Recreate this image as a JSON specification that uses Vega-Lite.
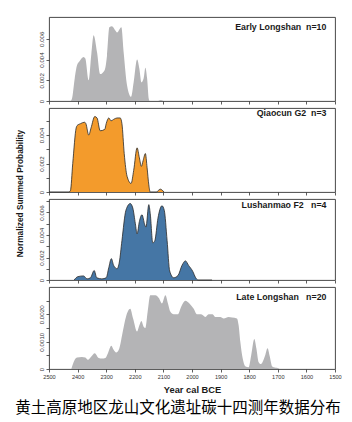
{
  "$schema": "https://vega.github.io/schema/vega-lite/v6.json",
  "autosize": {"type": "pad"},
  "padding": {"left": 14, "top": 16, "right": 0, "bottom": 0},
  "background": "white",
  "title": {"text": "黄土高原地区龙山文化遗址碳十四测年数据分布", "orient": "bottom", "anchor": "middle", "font": "Noto Sans CJK SC", "fontSize": 15.5, "fontWeight": "normal", "color": "#000000", "offset": 6},
  "spacing": 7,
  "bounds": "flush",
  "datasets": {
    "early": [
      {"year": 2425, "p": 0}, {"year": 2420, "p": 0.0002}, {"year": 2410, "p": 0.0022}, {"year": 2402, "p": 0.00345}, {"year": 2394, "p": 0.0038}, {"year": 2379, "p": 0.00425}, {"year": 2373, "p": 0.0041}, {"year": 2361, "p": 0.002}, {"year": 2352, "p": 0.0045}, {"year": 2344, "p": 0.00635}, {"year": 2332, "p": 0.0047}, {"year": 2321, "p": 0.0026}, {"year": 2305, "p": 0.003}, {"year": 2297, "p": 0.0044}, {"year": 2289, "p": 0.0071}, {"year": 2280, "p": 0.0072}, {"year": 2268, "p": 0.0068}, {"year": 2262, "p": 0.0066}, {"year": 2247, "p": 0.0071}, {"year": 2239, "p": 0.0047}, {"year": 2227, "p": 0.0015}, {"year": 2213, "p": 0.0004}, {"year": 2204, "p": 0.0018}, {"year": 2192, "p": 0.004}, {"year": 2184, "p": 0.0031}, {"year": 2177, "p": 0.0018}, {"year": 2169, "p": 0.0022}, {"year": 2163, "p": 0.0032}, {"year": 2157, "p": 0.0022}, {"year": 2151, "p": 0.0002}, {"year": 2148, "p": 0}, {"year": 2120, "p": 0}, {"year": 2110, "p": 0.0001}, {"year": 2100, "p": 0}
    ],
    "qiaocun": [
      {"year": 2500, "p": 0}, {"year": 2430, "p": 0}, {"year": 2425, "p": 0.0001}, {"year": 2417, "p": 0.002}, {"year": 2405, "p": 0.0045}, {"year": 2402, "p": 0.00466}, {"year": 2390, "p": 0.0048}, {"year": 2376, "p": 0.0049}, {"year": 2371, "p": 0.0048}, {"year": 2361, "p": 0.004}, {"year": 2353, "p": 0.0045}, {"year": 2340, "p": 0.0053}, {"year": 2332, "p": 0.0052}, {"year": 2321, "p": 0.0043}, {"year": 2305, "p": 0.0044}, {"year": 2300, "p": 0.0048}, {"year": 2291, "p": 0.0052}, {"year": 2283, "p": 0.005}, {"year": 2274, "p": 0.0051}, {"year": 2262, "p": 0.0052}, {"year": 2251, "p": 0.0052}, {"year": 2245, "p": 0.0048}, {"year": 2237, "p": 0.0027}, {"year": 2227, "p": 0.0011}, {"year": 2213, "p": 0.0006}, {"year": 2204, "p": 0.0015}, {"year": 2192, "p": 0.0031}, {"year": 2184, "p": 0.0024}, {"year": 2177, "p": 0.0018}, {"year": 2171, "p": 0.0022}, {"year": 2163, "p": 0.0027}, {"year": 2157, "p": 0.0017}, {"year": 2151, "p": 0.0005}, {"year": 2146, "p": 0}, {"year": 2125, "p": 0}, {"year": 2111, "p": 0.0002}, {"year": 2098, "p": 0}
    ],
    "lushanmao": [
      {"year": 2412, "p": 0}, {"year": 2399, "p": 0.0003}, {"year": 2379, "p": 0.00036}, {"year": 2367, "p": 0.0001}, {"year": 2355, "p": 0.0002}, {"year": 2342, "p": 0.00084}, {"year": 2333, "p": 0.0002}, {"year": 2315, "p": 0.0001}, {"year": 2300, "p": 0.0002}, {"year": 2291, "p": 0.0011}, {"year": 2282, "p": 0.0019}, {"year": 2274, "p": 0.0013}, {"year": 2262, "p": 0.001}, {"year": 2254, "p": 0.0016}, {"year": 2245, "p": 0.0035}, {"year": 2231, "p": 0.0062}, {"year": 2216, "p": 0.0068}, {"year": 2207, "p": 0.0064}, {"year": 2198, "p": 0.005}, {"year": 2192, "p": 0.0041}, {"year": 2184, "p": 0.0052}, {"year": 2175, "p": 0.0058}, {"year": 2165, "p": 0.0049}, {"year": 2161, "p": 0.0047}, {"year": 2151, "p": 0.0067}, {"year": 2146, "p": 0.0059}, {"year": 2137, "p": 0.0033}, {"year": 2130, "p": 0.0035}, {"year": 2119, "p": 0.0055}, {"year": 2105, "p": 0.0066}, {"year": 2097, "p": 0.0062}, {"year": 2087, "p": 0.0035}, {"year": 2078, "p": 0.0008}, {"year": 2064, "p": 0.0002}, {"year": 2049, "p": 0.0004}, {"year": 2035, "p": 0.0013}, {"year": 2023, "p": 0.0017}, {"year": 2012, "p": 0.0013}, {"year": 1997, "p": 0.00075}, {"year": 1988, "p": 0.00024}, {"year": 1979, "p": 0}, {"year": 1930, "p": 0}
    ],
    "late": [
      {"year": 2422, "p": 0}, {"year": 2410, "p": 0.00034}, {"year": 2402, "p": 0.00042}, {"year": 2385, "p": 0.00044}, {"year": 2373, "p": 0.00042}, {"year": 2364, "p": 0.00034}, {"year": 2352, "p": 0.00046}, {"year": 2340, "p": 0.00058}, {"year": 2326, "p": 0.0004}, {"year": 2315, "p": 0.00038}, {"year": 2303, "p": 0.0004}, {"year": 2294, "p": 0.00058}, {"year": 2282, "p": 0.00085}, {"year": 2274, "p": 0.0007}, {"year": 2265, "p": 0.0006}, {"year": 2254, "p": 0.00076}, {"year": 2242, "p": 0.00137}, {"year": 2231, "p": 0.0019}, {"year": 2216, "p": 0.0022}, {"year": 2206, "p": 0.00185}, {"year": 2192, "p": 0.00137}, {"year": 2184, "p": 0.0016}, {"year": 2177, "p": 0.00176}, {"year": 2169, "p": 0.00155}, {"year": 2163, "p": 0.0015}, {"year": 2155, "p": 0.0021}, {"year": 2146, "p": 0.0027}, {"year": 2128, "p": 0.0027}, {"year": 2116, "p": 0.0026}, {"year": 2105, "p": 0.0024}, {"year": 2093, "p": 0.0027}, {"year": 2084, "p": 0.0024}, {"year": 2076, "p": 0.0021}, {"year": 2064, "p": 0.002}, {"year": 2050, "p": 0.002}, {"year": 2037, "p": 0.0023}, {"year": 2023, "p": 0.0025}, {"year": 2009, "p": 0.0024}, {"year": 1994, "p": 0.0022}, {"year": 1983, "p": 0.002}, {"year": 1968, "p": 0.002}, {"year": 1953, "p": 0.0019}, {"year": 1942, "p": 0.002}, {"year": 1928, "p": 0.002}, {"year": 1919, "p": 0.0019}, {"year": 1901, "p": 0.0019}, {"year": 1889, "p": 0.00185}, {"year": 1872, "p": 0.0019}, {"year": 1860, "p": 0.00188}, {"year": 1843, "p": 0.00185}, {"year": 1837, "p": 0.0016}, {"year": 1831, "p": 0.001}, {"year": 1823, "p": 0.0004}, {"year": 1814, "p": 0.0001}, {"year": 1802, "p": 0.00006}, {"year": 1793, "p": 0.0005}, {"year": 1782, "p": 0.0011}, {"year": 1775, "p": 0.00076}, {"year": 1767, "p": 0.00025}, {"year": 1759, "p": 0.00018}, {"year": 1744, "p": 0.0005}, {"year": 1736, "p": 0.00076}, {"year": 1728, "p": 0.00046}, {"year": 1720, "p": 0.0001}, {"year": 1714, "p": 0.00006}, {"year": 1699, "p": 0.00003}, {"year": 1694, "p": 0}
    ]
  },
  "vconcat": [
    {
      "width": 286, "height": 84,
      "layer": [
        {
          "data": {"name": "early"},
          "mark": {"type": "area", "interpolate": "monotone", "color": "#b4b4b6", "opacity": 1},
          "encoding": {
            "x": {"field": "year", "type": "quantitative", "scale": {"domain": [1500, 2500], "reverse": true, "nice": false, "zero": false}, "axis": {"values": [2500, 2400, 2300, 2200, 2100, 2000, 1900, 1800, 1700, 1600, 1500], "labels": false, "title": null}},
            "y": {"field": "p", "type": "quantitative", "scale": {"domain": [0, 0.0081], "nice": false}, "axis": {"values": [0, 0.002, 0.004, 0.006], "labelExpr": "datum.value == 0 ? '0' : format(datum.value, '.3f')", "title": null}}
          }
        },
        {
          "data": {"values": [{"label": "Early Longshan\u00a0\u00a0n=10"}]},
          "mark": {"type": "text", "align": "right", "baseline": "middle", "fontWeight": "bold", "fontSize": 8.8, "color": "#1a1a1a"},
          "encoding": {
            "text": {"field": "label"},
            "x": {"datum": 1530, "type": "quantitative", "axis": {"values": [2500, 2400, 2300, 2200, 2100, 2000, 1900, 1800, 1700, 1600, 1500], "labels": false, "title": null}},
            "y": {"datum": 0.00715, "type": "quantitative", "axis": {"values": [0, 0.002, 0.004, 0.006], "labelExpr": "datum.value == 0 ? '0' : format(datum.value, '.3f')", "title": null}}
          }
        }
      ]
    },
    {
      "width": 286, "height": 84,
      "layer": [
        {
          "data": {"name": "qiaocun"},
          "mark": {"type": "area", "interpolate": "monotone", "color": "#f39b2c", "opacity": 1, "line": {"color": "#2a2a2a", "strokeWidth": 0.8}},
          "encoding": {
            "x": {"field": "year", "type": "quantitative", "scale": {"domain": [1500, 2500], "reverse": true, "nice": false, "zero": false}, "axis": {"values": [2500, 2400, 2300, 2200, 2100, 2000, 1900, 1800, 1700, 1600, 1500], "labels": false, "title": null}},
            "y": {"field": "p", "type": "quantitative", "scale": {"domain": [0, 0.0059], "nice": false}, "axis": {"values": [0, 0.001, 0.002, 0.003, 0.004, 0.005], "labelExpr": "datum.value == 0 ? '0' : (round(datum.value * 1000) % 2 == 0 ? format(datum.value, '.3f') : '')", "title": "Normalized Summed Probability", "titleX": -29, "titleY": 85, "titleAngle": -90, "titleAlign": "center", "titleBaseline": "middle", "titleFontWeight": "bold", "titleFontSize": 8.3, "titleColor": "#1a1a1a"}}
          }
        },
        {
          "data": {"values": [{"label": "Qiaocun G2\u00a0\u00a0n=3"}]},
          "mark": {"type": "text", "align": "right", "baseline": "middle", "fontWeight": "bold", "fontSize": 8.8, "color": "#1a1a1a"},
          "encoding": {
            "text": {"field": "label"},
            "x": {"datum": 1530, "type": "quantitative", "axis": {"values": [2500, 2400, 2300, 2200, 2100, 2000, 1900, 1800, 1700, 1600, 1500], "labels": false, "title": null}},
            "y": {"datum": 0.00555, "type": "quantitative", "axis": {"values": [0, 0.001, 0.002, 0.003, 0.004, 0.005], "labelExpr": "datum.value == 0 ? '0' : (round(datum.value * 1000) % 2 == 0 ? format(datum.value, '.3f') : '')", "title": "Normalized Summed Probability", "titleX": -29, "titleY": 85, "titleAngle": -90, "titleAlign": "center", "titleBaseline": "middle", "titleFontWeight": "bold", "titleFontSize": 8.3, "titleColor": "#1a1a1a"}}
          }
        }
      ]
    },
    {
      "width": 286, "height": 81,
      "layer": [
        {
          "data": {"name": "lushanmao"},
          "mark": {"type": "area", "interpolate": "monotone", "color": "#4576a5", "opacity": 1, "line": {"color": "#2a2a2a", "strokeWidth": 0.8}},
          "encoding": {
            "x": {"field": "year", "type": "quantitative", "scale": {"domain": [1500, 2500], "reverse": true, "nice": false, "zero": false}, "axis": {"values": [2500, 2400, 2300, 2200, 2100, 2000, 1900, 1800, 1700, 1600, 1500], "labels": false, "title": null}},
            "y": {"field": "p", "type": "quantitative", "scale": {"domain": [0, 0.0072], "nice": false}, "axis": {"values": [0, 0.001, 0.002, 0.003, 0.004, 0.005, 0.006, 0.007], "labelExpr": "datum.value == 0 ? '0' : (round(datum.value * 1000) % 2 == 0 ? format(datum.value, '.3f') : '')", "title": null}}
          }
        },
        {
          "data": {"values": [{"label": "Lushanmao F2\u00a0\u00a0\u00a0n=4"}]},
          "mark": {"type": "text", "align": "right", "baseline": "middle", "fontWeight": "bold", "fontSize": 8.8, "color": "#1a1a1a"},
          "encoding": {
            "text": {"field": "label"},
            "x": {"datum": 1530, "type": "quantitative", "axis": {"values": [2500, 2400, 2300, 2200, 2100, 2000, 1900, 1800, 1700, 1600, 1500], "labels": false, "title": null}},
            "y": {"datum": 0.00668, "type": "quantitative", "axis": {"values": [0, 0.001, 0.002, 0.003, 0.004, 0.005, 0.006, 0.007], "labelExpr": "datum.value == 0 ? '0' : (round(datum.value * 1000) % 2 == 0 ? format(datum.value, '.3f') : '')", "title": null}}
          }
        }
      ]
    },
    {
      "width": 286, "height": 82,
      "layer": [
        {
          "data": {"name": "late"},
          "mark": {"type": "area", "interpolate": "monotone", "color": "#b4b4b6", "opacity": 1},
          "encoding": {
            "x": {"field": "year", "type": "quantitative", "scale": {"domain": [1500, 2500], "reverse": true, "nice": false, "zero": false}, "axis": {"values": [2500, 2400, 2300, 2200, 2100, 2000, 1900, 1800, 1700, 1600, 1500], "format": "d", "labelFontSize": 5.6, "labelPadding": 2, "title": "Year cal BCE", "titleFontWeight": "bold", "titleFontSize": 9.3, "titlePadding": 6, "titleColor": "#1a1a1a"}},
            "y": {"field": "p", "type": "quantitative", "scale": {"domain": [0, 0.003], "nice": false}, "axis": {"values": [0, 0.0005, 0.001, 0.0015, 0.002, 0.0025], "labelExpr": "datum.value == 0 ? '0' : (round(datum.value * 10000) % 10 == 0 ? format(datum.value, '.4f') : '')", "title": null}}
          }
        },
        {
          "data": {"values": [{"label": "Late Longshan\u00a0\u00a0\u00a0n=20"}]},
          "mark": {"type": "text", "align": "right", "baseline": "middle", "fontWeight": "bold", "fontSize": 8.8, "color": "#1a1a1a"},
          "encoding": {
            "text": {"field": "label"},
            "x": {"datum": 1530, "type": "quantitative", "axis": {"values": [2500, 2400, 2300, 2200, 2100, 2000, 1900, 1800, 1700, 1600, 1500], "format": "d", "labelFontSize": 5.6, "labelPadding": 2, "title": "Year cal BCE", "titleFontWeight": "bold", "titleFontSize": 9.3, "titlePadding": 6, "titleColor": "#1a1a1a"}},
            "y": {"datum": 0.00264, "type": "quantitative", "axis": {"values": [0, 0.0005, 0.001, 0.0015, 0.002, 0.0025], "labelExpr": "datum.value == 0 ? '0' : (round(datum.value * 10000) % 10 == 0 ? format(datum.value, '.4f') : '')", "title": null}}
          }
        }
      ]
    }
  ],
  "config": {
    "font": "Liberation Sans",
    "view": {"stroke": "#333333", "strokeWidth": 0.9},
    "axis": {"domain": false, "grid": false, "tickColor": "#333333", "tickSize": 3, "tickWidth": 0.8, "labelFont": "Liberation Sans", "labelColor": "#333333", "labelFontSize": 6.2, "labelPadding": 2, "labelOverlap": false, "labelBound": false, "labelFlush": false, "titleFont": "Liberation Sans"},
    "axisY": {"labelAngle": -90, "labelAlign": "center", "labelBaseline": "bottom"},
    "text": {"font": "Liberation Sans"}
  }
}
